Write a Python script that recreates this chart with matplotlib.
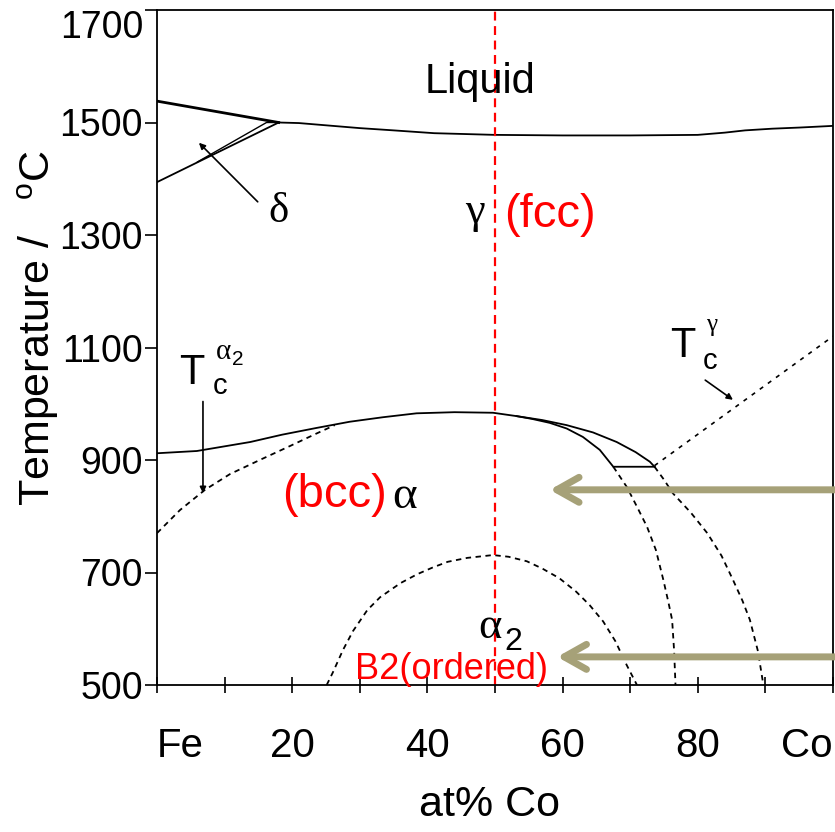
import matplotlib
matplotlib.use("Agg")
import matplotlib.pyplot as plt

plt.rcParams['font.family'] = ['Liberation Sans', 'DejaVu Sans']
plt.rcParams['mathtext.fontset'] = 'custom'
plt.rcParams['mathtext.rm'] = 'Liberation Sans'

# ---------------- data (at% Co, deg C) ----------------
liq_x = [18, 21, 25, 30, 35, 41, 50, 60, 70, 80, 84, 87, 91, 95, 100]
liq_y = [1500, 1499, 1495, 1490, 1486, 1481, 1478, 1477, 1477, 1478, 1482, 1486, 1489, 1491, 1494]

delta_up_x = [0, 18]
delta_up_y = [1538, 1500]
delta_lo_x = [0, 18]
delta_lo_y = [1394, 1500]
delta_lo2_x = [6, 16.2, 18]
delta_lo2_y = [1430, 1500, 1500]

ag_x = [0, 5.9, 13.8, 18.5, 23.6, 28.5, 33.4, 38.4, 44, 49.7, 53.2, 57, 60.6, 64.5, 68, 70.8, 72.9, 73.6]
ag_y = [912, 916, 932, 945, 957, 968, 976, 983, 985, 984, 978, 971, 962, 949, 932, 914, 897, 888]
agi_x = [53.2, 55.5, 58.1, 60.6, 63, 65.5, 67.5, 73.6]
agi_y = [978, 973, 966, 956, 941, 918, 888, 888]

tca_x = [0, 3.4, 7.1, 10.8, 15.2, 19.7, 23.4, 26.3]
tca_y = [770, 811, 847, 875, 900, 925, 946, 962]

tcg_x = [73.6, 100]
tcg_y = [890, 1120]

dome_x = [25.1, 26, 27.5, 29, 31.1, 33, 36, 38.5, 40.8, 43, 45.9, 49.7, 52,
          54.7, 57, 59.5, 62, 64, 66, 67.8, 69.5, 71]
dome_y = [500, 522, 562, 596, 633, 656, 681, 697, 709, 719, 726, 731, 728,
          720, 707, 690, 666, 642, 613, 578, 535, 500]

inner_x = [67.5, 68.5, 69.5, 71, 72.5, 73.8, 74.9, 75.6, 76.2, 76.5, 76.7]
inner_y = [888, 870, 852, 817, 781, 740, 687, 650, 616, 560, 500]
outer_x = [73.6, 75, 76.3, 79, 81.4, 83.5, 85.2, 86.6, 87.7, 88.9, 89.7]
outer_y = [888, 865, 841, 806, 770, 730, 687, 650, 616, 560, 500]

xticks = [0, 20, 40, 60, 80, 100]
xticklabels = ['Fe', '20', '40', '60', '80', 'Co']
xminor = [10, 30, 50, 70, 90]
yticks = [500, 700, 900, 1100, 1300, 1500, 1700]
composition_line = 50

# ---------------- figure ----------------
fig = plt.figure(figsize=(8.35, 8.32), dpi=100)
ax = fig.add_axes([157/835, 1 - 685/832, 676/835, 675/832])
ax.set_xlim(0, 100)
ax.set_ylim(500, 1700)

k = 'black'
lw = 1.3
dash = (0, (3, 2.5))
ax.plot(liq_x, liq_y, color=k, lw=lw)
ax.plot(delta_up_x, delta_up_y, color=k, lw=2.0)
ax.plot(delta_lo_x, delta_lo_y, color=k, lw=lw)
ax.plot(delta_lo2_x, delta_lo2_y, color=k, lw=1.0)
ax.plot(ag_x, ag_y, color=k, lw=lw)
ax.plot(agi_x, agi_y, color=k, lw=lw)
ax.plot(tca_x, tca_y, color=k, lw=lw, ls=dash)
ax.plot(tcg_x, tcg_y, color=k, lw=1.2, ls=(0, (2.5, 3.5)))
ax.plot(dome_x, dome_y, color=k, lw=lw, ls=dash)
ax.plot(inner_x, inner_y, color=k, lw=lw, ls=dash)
ax.plot(outer_x, outer_y, color=k, lw=lw, ls=dash)

ax.axvline(composition_line, color='red', lw=1.6, ls=(0, (4, 2.5)))

# ---------------- labels in the diagram ----------------
serif = ['Liberation Serif', 'DejaVu Serif']
ax.text(47.8, 1572, 'Liquid', fontsize=30, ha='center', va='center')
ax.text(47.0, 1341, 'γ', fontsize=32, ha='center', va='center', family=serif)
ax.text(58.1, 1336, '(fcc)', fontsize=34, ha='center', va='center', color='red')
ax.text(17.9, 1341, 'δ', fontsize=31, ha='center', va='center', family=serif)
ax.text(26.2, 838, '(bcc)', fontsize=34, ha='center', va='center', color='red')
ax.text(36.7, 834, 'α', fontsize=34, ha='center', va='center', family=serif)
ax.text(49.3, 603, 'α', fontsize=32, ha='center', va='center', family=serif)
ax.text(52.7, 576, '2', fontsize=23, ha='center', va='center')
ax.text(43.6, 528, 'B2(ordered)', fontsize=26, ha='center', va='center', color='red')

# T_c alpha2
ax.text(5.1, 1055, 'T', fontsize=30, ha='center', va='center')
ax.text(9.3, 1032, 'c', fontsize=21, ha='center', va='center')
ax.text(9.9, 1092, 'α', fontsize=21, ha='center', va='center', family=serif)
ax.text(12.0, 1078, '2', fontsize=15, ha='center', va='center')
# T_c gamma
ax.text(77.8, 1103, 'T', fontsize=30, ha='center', va='center')
ax.text(81.8, 1076, 'c', fontsize=21, ha='center', va='center')
ax.text(82.0, 1140, 'γ', fontsize=18, ha='center', va='center', family=serif)

thin = dict(arrowstyle='-|>', lw=1.2, color='black', mutation_scale=9,
            shrinkA=0, shrinkB=0)
ax.annotate('', xy=(6.2, 1464), xytext=(14.9, 1359), arrowprops=thin)
ax.annotate('', xy=(6.8, 841), xytext=(6.8, 1004), arrowprops=thin)
ax.annotate('', xy=(85.2, 1007), xytext=(81.1, 1042), arrowprops=thin)

olive = '#a6a178'
for (tip_x, y) in [(58.1, 847), (59.2, 550)]:
    a = ax.annotate('', xy=(tip_x, y), xytext=(100.6, y), annotation_clip=False,
                    arrowprops=dict(arrowstyle='->,head_length=0.8,head_width=0.45',
                                    lw=5, color=olive, mutation_scale=20,
                                    shrinkA=0, shrinkB=0, capstyle='round',
                                    joinstyle='round'))
    a.arrow_patch.set_clip_on(False)

# ---------------- axes ----------------
for s in ax.spines.values():
    s.set_linewidth(1.3)
ax.set_xticks(xticks)
ax.set_xticklabels(xticklabels)
ax.set_xticks(xminor, minor=True)
ax.set_yticks(yticks)
ax.set_yticklabels([str(v) for v in yticks])
ax.tick_params(axis='x', which='both', direction='inout', length=12, width=1.2,
               labelsize=29, pad=24)
ax.tick_params(axis='y', direction='out', length=9, width=1.2, labelsize=27, pad=1)
xl = ax.get_xticklabels()
xl[0].set_ha('left')
xl[-1].set_ha('right')
yl = ax.get_yticklabels()
yl[-1].set_va('top')

ax.set_xlabel('at% Co', fontsize=31, va='center')
ax.xaxis.set_label_coords(0.4926, -0.178)
ax.set_ylabel(r'Temperature /   $^{\mathrm{o}}$C', fontsize=31, va='center')
ax.yaxis.set_label_coords(-0.176, 0.529)

fig.savefig('out.png', dpi=100)
